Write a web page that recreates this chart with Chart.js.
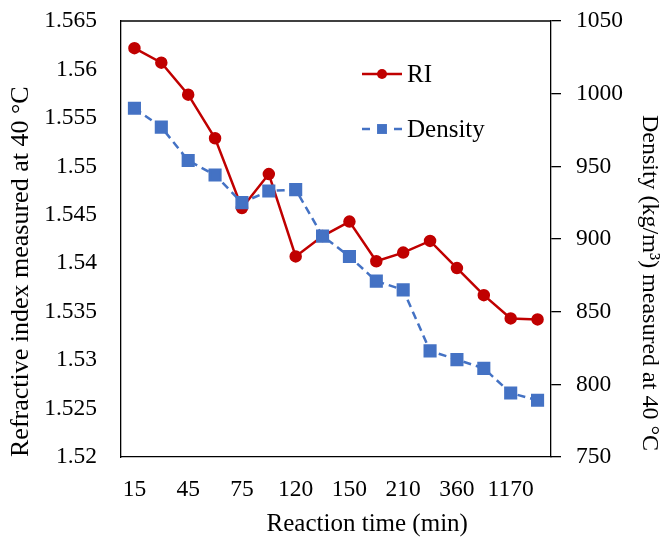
<!DOCTYPE html>
<html><head><meta charset="utf-8">
<script src="https://cdn.jsdelivr.net/npm/chart.js@4/dist/chart.umd.min.js"></script>
<style>html,body{margin:0;padding:0;background:#fff}#wrap{width:666px;height:539px}</style>
</head><body><div id="wrap"><canvas id="c" width="666" height="539"></canvas></div>
<script>
const categories = ['15','30','45','60','75','90','120','135','150','180','210','240','360','720','1170','1440'];
const riValues = [1.5622,1.5607,1.5574,1.5529,1.5457,1.5492,1.5407,1.5428,1.5443,1.5402,1.5411,1.5423,1.5395,1.5367,1.5343,1.5342];
const densityValues = [990,977,954,944,925,933,934,902,888,871,865,823,817,811,794,789];
const riTicks = {min:1.52, max:1.565, step:0.005};
const densityTicks = {min:750, max:1050, step:50};

const FONT = "'Liberation Serif','Times New Roman',serif";

const legendPlugin = {
  id:'customLegend',
  afterDatasetsDraw(chart){
    const ctx = chart.ctx, a = chart.chartArea;
    const rows = [{ds:0, dy:53},{ds:1, dy:108}];
    ctx.save();
    rows.forEach(r=>{
      const d = chart.data.datasets[r.ds];
      const y = a.top + r.dy;
      const x0 = a.left + 241, x1 = a.left + 281, xm = (x0+x1)/2;
      ctx.strokeStyle = d.borderColor; ctx.lineWidth = d.borderWidth;
      if (d.borderDash) {
        ctx.beginPath(); ctx.moveTo(x0,y); ctx.lineTo(x0+8,y); ctx.stroke();
        ctx.beginPath(); ctx.moveTo(x1-8,y); ctx.lineTo(x1,y); ctx.stroke();
      } else {
        ctx.beginPath(); ctx.moveTo(x0,y); ctx.lineTo(x1,y); ctx.stroke();
      }
      ctx.fillStyle = d.pointBackgroundColor; ctx.strokeStyle = d.pointBorderColor;
      Chart.helpers.drawPoint(ctx,{pointStyle:d.pointStyle, radius:d.pointStyle==='rect'?7:d.pointRadius, borderWidth:0}, xm, y);
      ctx.fillStyle = '#000'; ctx.font = "25px " + FONT; ctx.textBaseline='middle'; ctx.textAlign='left';
      ctx.fillText(d.label, x1+5, y+1);
    });
    ctx.restore();
  },
  beforeDatasetsDraw(chart){
    const ctx = chart.ctx, a = chart.chartArea;
    ctx.save(); ctx.strokeStyle='#000'; ctx.lineWidth=1.3;
    ctx.beginPath(); ctx.moveTo(a.left,a.top); ctx.lineTo(a.right,a.top); ctx.stroke();
    ctx.restore();
  }
};

function noVPad(s){ s.paddingTop = 0; s.paddingBottom = 0; }

new Chart(document.getElementById('c'), {
  type:'line',
  data:{
    labels:categories,
    datasets:[
      {label:'RI', data:riValues, yAxisID:'y', borderColor:'#C00000', backgroundColor:'#C00000',
       pointBackgroundColor:'#C00000', pointBorderColor:'#C00000', borderWidth:2.5, pointRadius:5, pointHoverRadius:5,
       pointStyle:'circle', tension:0, order:2},
      {label:'Density', data:densityValues, yAxisID:'y1', borderColor:'#4472C4', backgroundColor:'#4472C4',
       pointBackgroundColor:'#4472C4', pointBorderColor:'#4472C4', borderWidth:2.5, borderDash:[8,5], pointRadius:7.5, pointHoverRadius:7.5,
       pointStyle:'rect', tension:0, order:1}
    ]
  },
  options:{
    responsive:false, animation:false, devicePixelRatio:1,
    layout:{padding:{top:21,left:0,right:0,bottom:0}},
    plugins:{legend:{display:false}, tooltip:{enabled:false}},
    scales:{
      x:{
        type:'category', offset:true,
        grid:{display:false, drawTicks:false},
        border:{display:true, color:'#000', width:1.3},
        ticks:{autoSkip:false, maxRotation:0, padding:19, color:'#000', font:{family:FONT,size:23.5},
          callback:function(v,i){ return i%2===0 ? this.getLabelForValue(v) : ''; }},
        title:{display:true, text:'\u00A0'.repeat(10) + 'Reaction time (min)', color:'#000', font:{family:FONT,size:25}, padding:{top:0,bottom:0}},
        afterFit(s){ s.height = 82; s.paddingLeft = 0; s.paddingRight = 0; }
      },
      y:{
        position:'left', min:riTicks.min, max:riTicks.max,
        grid:{display:false, drawTicks:false},
        border:{display:true, color:'#000', width:1.3},
        ticks:{stepSize:riTicks.step, padding:24, color:'#000', font:{family:FONT,size:23.5},
          callback:v=>String(parseFloat(v.toFixed(3)))},
        title:{display:true, align:'start', text:'Refractive index measured at 40 °C', color:'#000', font:{family:FONT,size:26}, padding:{top:6,bottom:0}},
        afterFit(s){ s.width = 121; noVPad(s); }
      },
      y1:{
        position:'right', min:densityTicks.min, max:densityTicks.max,
        grid:{display:true, drawOnChartArea:false, drawTicks:true, tickLength:10, color:'#000', lineWidth:1.3},
        border:{display:true, color:'#000', width:1.3},
        ticks:{stepSize:densityTicks.step, padding:15, color:'#000', font:{family:FONT,size:23.5},
          callback:v=>String(v)},
        title:{display:true, align:'start', text:'Density (kg/m³) measured at 40 °C' + '\u00A0'.repeat(1), color:'#000', font:{family:FONT,size:24}, padding:{top:2,bottom:0}},
        afterFit(s){ s.width = 115; noVPad(s); }
      }
    }
  },
  plugins:[legendPlugin]
});
</script>
</body></html>
